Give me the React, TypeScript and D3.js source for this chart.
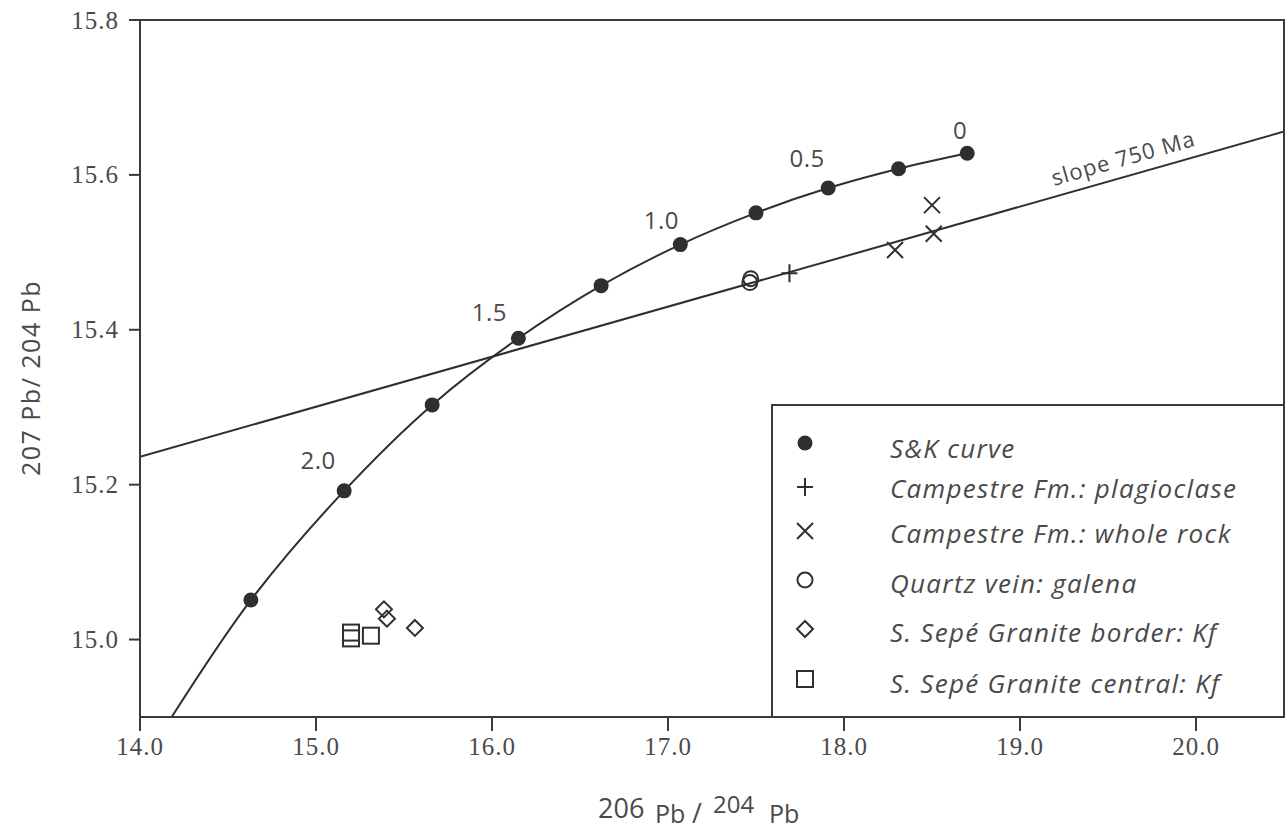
import React from "react";
import * as d3 from "d3";

// Stacey & Kramers growth curve: age (Ga), 206Pb/204Pb, 207Pb/204Pb
const skAges = [0, 0.25, 0.5, 0.75, 1.0, 1.25, 1.5, 1.75, 2.0, 2.25];
const sk206 = [18.7, 18.31, 17.91, 17.5, 17.07, 16.62, 16.15, 15.66, 15.16, 14.63];
const sk207 = [15.628, 15.608, 15.583, 15.551, 15.51, 15.457, 15.389, 15.303, 15.192, 15.051];
// lower end of the drawn curve where it leaves the frame
const skTail = [14.18, 14.9];
const ageLabels = ["0", "0.5", "1.0", "1.5", "2.0"];

// 750 Ma reference line endpoints
const slope206 = [14.0, 20.5];
const slope207 = [15.236, 15.656];

// Campestre Fm.: plagioclase
const plag206 = [17.69];
const plag207 = [15.473];
// Campestre Fm.: whole rock
const wr206 = [18.5, 18.51, 18.29];
const wr207 = [15.561, 15.524, 15.503];
// Quartz vein: galena
const gal206 = [17.47, 17.465];
const gal207 = [15.466, 15.461];
// S. Sepé Granite border: Kf
const border206 = [15.386, 15.403, 15.562];
const border207 = [15.039, 15.027, 15.015];
// S. Sepé Granite central: Kf
const central206 = [15.199, 15.199, 15.312];
const central207 = [15.009, 15.0015, 15.005];

const xTicks = [14, 15, 16, 17, 18, 19, 20];
const yTicks = [15.0, 15.2, 15.4, 15.6, 15.8];

const legendLabels = [
  "S&K curve",
  "Campestre Fm.: plagioclase",
  "Campestre Fm.: whole rock",
  "Quartz vein: galena",
  "S. Sepé Granite border: Kf",
  "S. Sepé Granite central: Kf",
];

const INK = "#2f2f2f";
const TEXT = "#4a4a4a";
const SANS = "'Open Sans', Lato, sans-serif";
const SERIF = "'Liberation Serif', serif";

const W = 1288;
const H = 836;
const left = 140;
const right = 1284;
const top = 20;
const bottom = 717;

const x = d3.scaleLinear().domain([14, 20.5]).range([left, right]);
const y = d3.scaleLinear().domain([14.9, 15.8]).range([bottom, top]);

type Shape = "dot" | "plus" | "cross" | "circle" | "diamond" | "square";

function Marker({ shape, cx, cy }: { shape: Shape; cx: number; cy: number }) {
  const sw = 2;
  switch (shape) {
    case "dot":
      return <circle cx={cx} cy={cy} r={7.5} fill={INK} />;
    case "plus":
      return (
        <path d={`M${cx - 8},${cy}H${cx + 8}M${cx},${cy - 9}V${cy + 9}`} stroke={INK} strokeWidth={sw} fill="none" />
      );
    case "cross":
      return (
        <path
          d={`M${cx - 8},${cy - 8}L${cx + 8},${cy + 8}M${cx - 8},${cy + 8}L${cx + 8},${cy - 8}`}
          stroke={INK}
          strokeWidth={sw}
          fill="none"
        />
      );
    case "circle":
      return <circle cx={cx} cy={cy} r={7.5} fill="none" stroke={INK} strokeWidth={sw} />;
    case "diamond":
      return (
        <path
          d={`M${cx},${cy - 8}L${cx + 8},${cy}L${cx},${cy + 8}L${cx - 8},${cy}Z`}
          fill="none"
          stroke={INK}
          strokeWidth={sw}
        />
      );
    case "square":
      return <rect x={cx - 8} y={cy - 8} width={16} height={16} fill="none" stroke={INK} strokeWidth={sw} />;
  }
}

// label placement relative to its S&K point (dx, baseline dy)
const ageLabelOffset: Record<string, [number, number]> = {
  "0": [-7, -14],
  "0.5": [-21, -21],
  "1.0": [-19, -16],
  "1.5": [-29, -17],
  "2.0": [-26, -22],
};

export default function App() {
  const skPts: [number, number][] = skAges.map((_, i) => [sk206[i], sk207[i]]);
  const curvePts: [number, number][] = [[skTail[0], skTail[1]], ...skPts.slice().reverse()];
  const curvePath = d3
    .line<[number, number]>()
    .x((d) => x(d[0]))
    .y((d) => y(d[1]))
    .curve(d3.curveCatmullRom.alpha(0.5))(curvePts) as string;

  const sx0 = x(slope206[0]);
  const sy0 = y(slope207[0]);
  const sx1 = x(slope206[1]);
  const sy1 = y(slope207[1]);
  const angle = (Math.atan2(sy1 - sy0, sx1 - sx0) * 180) / Math.PI;
  const labelX = 1054;
  const labelY = sy0 + ((labelX - sx0) * (sy1 - sy0)) / (sx1 - sx0) - 11;

  const series: { shape: Shape; xs: number[]; ys: number[] }[] = [
    { shape: "plus", xs: plag206, ys: plag207 },
    { shape: "cross", xs: wr206, ys: wr207 },
    { shape: "circle", xs: gal206, ys: gal207 },
    { shape: "diamond", xs: border206, ys: border207 },
    { shape: "square", xs: central206, ys: central207 },
  ];

  const legendShapes: Shape[] = ["dot", "plus", "cross", "circle", "diamond", "square"];
  const legendMarkerY = [443, 487, 531, 580, 629, 679];
  const legendTextY = [458, 498, 543, 593, 642, 693];

  return (
    <svg
      width={W}
      height={H}
      viewBox={`0 0 ${W} ${H}`}
      style={{ position: "absolute", left: 0, top: 0, background: "#fff" }}
    >
      <defs>
        <clipPath id="plotArea">
          <rect x={left} y={top} width={right - left} height={bottom - top} />
        </clipPath>
      </defs>

      {/* reference line and growth curve */}
      <g clipPath="url(#plotArea)">
        <line x1={sx0} y1={sy0} x2={sx1} y2={sy1} stroke={INK} strokeWidth={2} />
        <path d={curvePath} fill="none" stroke={INK} strokeWidth={2} />
      </g>

      <text
        x={labelX}
        y={labelY}
        transform={`rotate(${angle},${labelX},${labelY})`}
        fontFamily={SANS}
        fontSize={22}
        letterSpacing={1}
        fill={TEXT}
      >
        slope 750 Ma
      </text>

      {/* S&K points and age labels */}
      {skPts.map((p, i) => (
        <Marker key={`sk${i}`} shape="dot" cx={x(p[0])} cy={y(p[1])} />
      ))}
      {skAges.map((a, i) => {
        const lab = ageLabels.find((l) => parseFloat(l) === a);
        if (!lab) return null;
        const [dx, dy] = ageLabelOffset[lab];
        return (
          <text
            key={`age${i}`}
            x={x(sk206[i]) + dx}
            y={y(sk207[i]) + dy}
            textAnchor="middle"
            fontFamily={SANS}
            fontSize={24}
            letterSpacing={0.5}
            fill={TEXT}
          >
            {lab}
          </text>
        );
      })}

      {/* sample data */}
      {series.map((s) =>
        s.xs.map((v, i) => <Marker key={`${s.shape}${i}`} shape={s.shape} cx={x(v)} cy={y(s.ys[i])} />)
      )}

      {/* frame */}
      <rect
        x={left}
        y={top}
        width={right - left}
        height={bottom - top}
        fill="none"
        stroke="#3a3a3a"
        strokeWidth={2}
      />

      {/* legend */}
      <rect x={772} y={405} width={right - 772} height={bottom - 405} fill="#fff" stroke="#3a3a3a" strokeWidth={2} />
      {legendLabels.map((lab, i) => (
        <g key={lab}>
          <Marker shape={legendShapes[i]} cx={805} cy={legendMarkerY[i]} />
          <text
            x={890}
            y={legendTextY[i]}
            fontFamily={SANS}
            fontStyle="italic"
            fontSize={26}
            letterSpacing={1.3}
            fill={TEXT}
          >
            {lab}
          </text>
        </g>
      ))}

      {/* x axis ticks */}
      {xTicks.map((t) => (
        <g key={`xt${t}`}>
          <line x1={x(t)} x2={x(t)} y1={bottom} y2={bottom + 14} stroke="#3a3a3a" strokeWidth={2} />
          <text
            x={x(t)}
            y={755}
            textAnchor="middle"
            fontFamily={SERIF}
            fontSize={25}
            letterSpacing={1}
            fill={TEXT}
          >
            {t.toFixed(1)}
          </text>
        </g>
      ))}

      {/* y axis ticks */}
      {yTicks.map((t) => (
        <g key={`yt${t}`}>
          <line x1={left - 11} x2={left} y1={y(t)} y2={y(t)} stroke="#3a3a3a" strokeWidth={2} />
          <text
            x={119}
            y={y(t)}
            dy="0.34em"
            textAnchor="end"
            fontFamily={SERIF}
            fontSize={25}
            letterSpacing={1}
            fill={TEXT}
          >
            {t.toFixed(1)}
          </text>
        </g>
      ))}

      {/* axis titles */}
      <g fontFamily={SANS} fill={TEXT}>
        <text x={598} y={818} fontSize={27}>206</text>
        <text x={655} y={823} fontSize={25}>Pb</text>
        <text x={692} y={823} fontSize={27}>/</text>
        <text x={713} y={813} fontSize={24}>204</text>
        <text x={769} y={823} fontSize={25}>Pb</text>
      </g>
      <text
        x={40}
        y={378}
        transform="rotate(-90,40,378)"
        textAnchor="middle"
        fontFamily={SANS}
        fontSize={25}
        letterSpacing={1.5}
        fill={TEXT}
      >
        207 Pb/ 204 Pb
      </text>
    </svg>
  );
}
